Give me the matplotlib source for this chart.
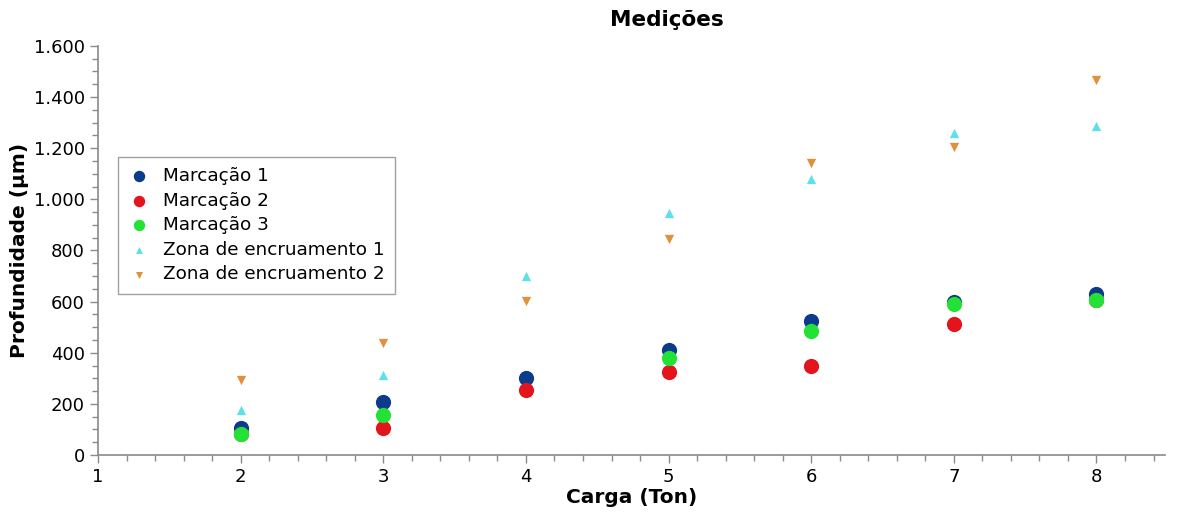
import numpy as np
import matplotlib
matplotlib.use("Agg")
import matplotlib.pyplot as plt
from matplotlib.ticker import MultipleLocator, FuncFormatter

carga = [2, 3, 4, 5, 6, 7, 8]
marcacao1 = [106, 207, 300, 411, 526, 600, 629]
marcacao2 = [84, 106, 254, 325, 349, 512, 606]
marcacao3 = [84, 156, np.nan, 380, 486, 590, 608]
zona1 = [178, 313, 700, 946, 1080, 1258, 1285]
zona2 = [293, 438, 604, 845, 1144, 1204, 1465]

series = [
    ("Marcação 1", marcacao1, "#0b3c8c", "o", 120),
    ("Marcação 2", marcacao2, "#e3141b", "o", 120),
    ("Marcação 3", marcacao3, "#22e335", "o", 120),
    ("Zona de encruamento 1", zona1, "#5ee0ea", "^", 45),
    ("Zona de encruamento 2", zona2, "#e0913c", "v", 45),
]

plt.rcParams['font.family'] = ['DejaVu Sans']
fig = plt.figure(figsize=(11.79, 5.12), dpi=100)
ax = fig.add_axes([0.0831, 0.1113, 0.905, 0.799])

for name, vals, col, mk, s in series:
    ax.scatter(carga, vals, s=s, c=col, marker=mk, label=name, linewidths=0, zorder=3)

ax.set_xlim(1, 8.48)
ax.set_ylim(0, 1600)
ax.xaxis.set_major_locator(MultipleLocator(1))
ax.xaxis.set_minor_locator(MultipleLocator(0.2))
ax.yaxis.set_major_locator(MultipleLocator(200))
ax.yaxis.set_minor_locator(MultipleLocator(50))
ax.yaxis.set_major_formatter(FuncFormatter(lambda v, p: f"{int(v):,}".replace(",", ".")))

for side in ("top", "right"):
    ax.spines[side].set_visible(False)
for side in ("left", "bottom"):
    ax.spines[side].set_color("#8a8a8a")
    ax.spines[side].set_linewidth(1.2)
ax.tick_params(which="major", length=6, width=1, color="#8a8a8a", labelsize=13, direction="out")
ax.tick_params(which="minor", length=4, width=1, color="#8a8a8a", direction="out")

ax.set_xlabel("Carga (Ton)", fontsize=14.5, fontweight="bold", labelpad=1)
ax.set_ylabel("Profundidade (µm)", fontsize=14.5, fontweight="bold", labelpad=3)
fig.text(0.566, 0.96, "Medições", fontsize=15.5, fontweight="bold", ha="center", va="center")

leg = ax.legend(loc="upper left", bbox_to_anchor=(0.0187, 0.7286), borderaxespad=0,
                fontsize=13.2, frameon=True, fancybox=False, handletextpad=0.7,
                labelspacing=0.36, borderpad=0.55, handlelength=1.2, scatterpoints=1,
                markerscale=0.75)
leg.get_frame().set_edgecolor("#8a8a8a")
leg.get_frame().set_linewidth(1.0)

fig.savefig("out.png", dpi=100)
